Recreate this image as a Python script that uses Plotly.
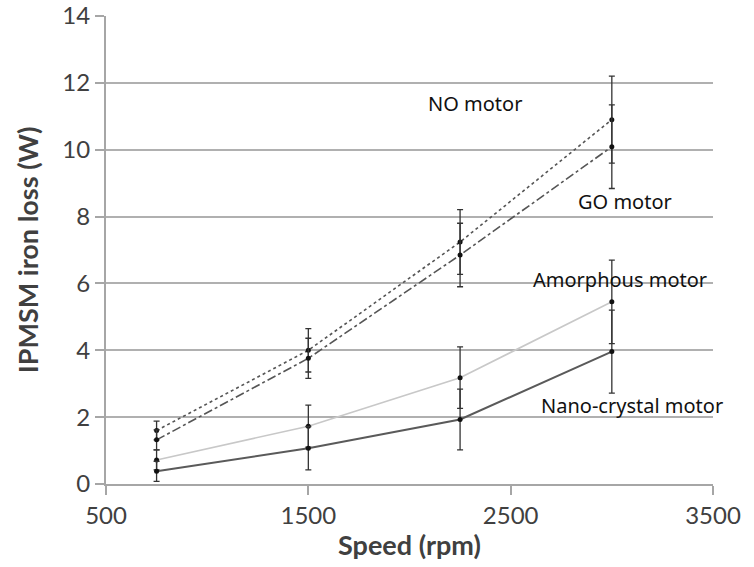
import plotly.graph_objects as go

speed = [750, 1500, 2250, 3000]

no_loss = [1.60, 4.00, 7.24, 10.90]
no_err = [0.28, 0.65, 0.97, 1.30]

go_loss = [1.32, 3.76, 6.85, 10.09]
go_err = [0.30, 0.60, 0.95, 1.25]

amor_loss = [0.72, 1.73, 3.18, 5.45]
amor_err = [0.30, 0.63, 0.92, 1.25]

nano_loss = [0.38, 1.07, 1.93, 3.96]
nano_err = [0.30, 0.65, 0.91, 1.24]

labels = ["NO motor", "GO motor", "Amorphous motor", "Nano-crystal motor"]
label_x = [2324, 3065, 3041, 3100]
label_y = [11.39, 8.46, 6.13, 2.36]

fig = go.Figure()

series = [
    (no_loss, no_err, "#555555", "dot", 1.6),
    (go_loss, go_err, "#555555", "dashdot", 1.6),
    (amor_loss, amor_err, "#c8c8c8", "solid", 1.6),
    (nano_loss, nano_err, "#5a5a5a", "solid", 2.0),
]
for name, (vals, errs, col, dash, w) in zip(labels, series):
    fig.add_trace(go.Scatter(
        x=speed, y=vals, name=name, mode="lines+markers",
        line=dict(color=col, dash=dash, width=w),
        marker=dict(color="#111111", size=5),
        error_y=dict(type="data", array=errs, visible=True,
                     color="#333333", thickness=1.3, width=3),
        showlegend=False,
    ))

for t, lx, ly in zip(labels, label_x, label_y):
    fig.add_annotation(x=lx, y=ly, xref="x", yref="y", text=t, showarrow=False,
                       font=dict(family="Noto Sans", size=20, color="#111111"))

fig.update_layout(
    width=754, height=567,
    margin=dict(l=106, r=41, t=16, b=83),
    paper_bgcolor="white", plot_bgcolor="white",
    font=dict(family="Lato", color="#404040"),
)
fig.update_xaxes(
    range=[500, 3500], tickvals=[500, 1500, 2500, 3500],
    showgrid=False, showline=True, linecolor="#a6a6a6", linewidth=2,
    ticks="outside", ticklen=9, tickcolor="#a6a6a6", tickwidth=2,
    tickfont=dict(size=24, color="#404040"),
    title=dict(text="<b>Speed (rpm)</b>", font=dict(size=27, color="#404040"), standoff=8),
    zeroline=False, automargin=False,
)
fig.update_yaxes(
    range=[0, 14], tickvals=[0, 2, 4, 6, 8, 10, 12, 14],
    showgrid=True, gridcolor="#b0b0b0", gridwidth=2,
    showline=True, linecolor="#a6a6a6", linewidth=2,
    ticks="outside", ticklen=9, tickcolor="#a6a6a6", tickwidth=2,
    tickfont=dict(size=24, color="#404040"),
    title=dict(text="<b>IPMSM iron loss (W)</b>", font=dict(size=27, color="#404040"), standoff=16),
    zeroline=False, automargin=False,
)

fig.write_html("out.html")
